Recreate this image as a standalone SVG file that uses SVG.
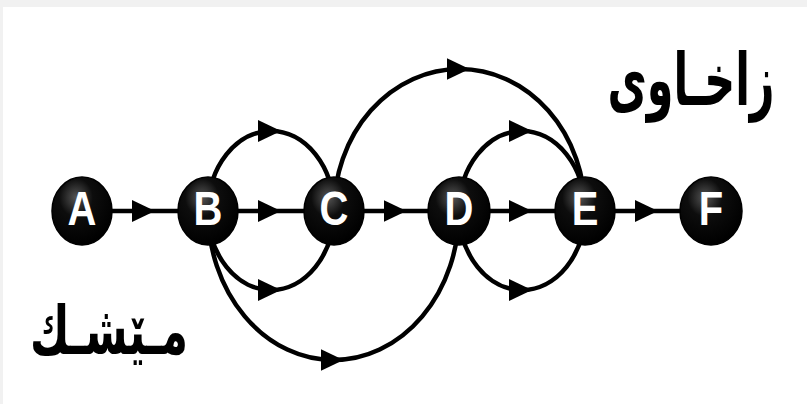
<svg xmlns="http://www.w3.org/2000/svg" width="807" height="404" viewBox="0 0 807 404">
<style>
.edge{fill:none;stroke:#000;stroke-width:4.5;marker-mid:url(#arr)}
.node ellipse{fill:url(#ball);stroke:#000;stroke-width:1.5}
.node text{font-family:"Liberation Sans",Arial,sans-serif;font-weight:bold;font-size:40px;fill:#fff;text-anchor:middle}
.word{font-family:"DejaVu Sans","Noto Sans",sans-serif;font-weight:bold;font-size:58px;fill:#000;text-anchor:middle}
</style>
<defs>
<radialGradient id="ball" cx="0.4" cy="0.3" r="0.7">
<stop offset="0" stop-color="#555"/>
<stop offset="0.4" stop-color="#0d0d0d"/>
<stop offset="1" stop-color="#000"/>
</radialGradient>
<marker id="arr" markerUnits="userSpaceOnUse" viewBox="0 0 23 22" markerWidth="23" markerHeight="22" refX="13" refY="11" orient="auto">
<path d="M0,0 L23,11 L0,22 z" fill="#000"/>
</marker>
</defs>
<rect x="0" y="0" width="807" height="404" fill="#f1f1f1"/>
<rect x="3" y="7" width="804" height="397" fill="#fff"/>
<g id="connectors">
<path class="edge" d="M82 211 L145 211 L208 211"/>
<path class="edge" d="M208 211 L271 211 L334 211"/>
<path class="edge" d="M334 211 L396.5 211 L459 211"/>
<path class="edge" d="M459 211 L522 211 L585 211"/>
<path class="edge" d="M585 211 L648 211 L711 211"/>
<path class="edge" d="M208 211 A63 80 0 0 1 271 131 A63 80 0 0 1 334 211"/>
<path class="edge" d="M208 211 A63 79 0 0 0 271 290 A63 79 0 0 0 334 211"/>
<path class="edge" d="M334 211 A125.5 142 0 0 1 459.5 69 A125.5 142 0 0 1 585 211"/>
<path class="edge" d="M459 211 A63 80 0 0 1 522 131 A63 80 0 0 1 585 211"/>
<path class="edge" d="M459 211 A63 79 0 0 0 522 290 A63 79 0 0 0 585 211"/>
<path class="edge" d="M208 211 A125.5 149 0 0 0 333.5 360 A125.5 149 0 0 0 459 211"/>
</g>
<g id="A" class="node"><ellipse cx="82" cy="211" rx="30" ry="34"/><text transform="translate(82 211) scale(1 1.2)" y="12">A</text></g>
<g id="B" class="node"><ellipse cx="208" cy="211" rx="30" ry="34"/><text transform="translate(208 211) scale(1 1.2)" y="12">B</text></g>
<g id="C" class="node"><ellipse cx="334" cy="211" rx="30" ry="34"/><text transform="translate(334 211) scale(1 1.2)" y="12">C</text></g>
<g id="D" class="node"><ellipse cx="459" cy="211" rx="31" ry="34"/><text transform="translate(459 211) scale(1 1.2)" y="12">D</text></g>
<g id="E" class="node"><ellipse cx="585" cy="211" rx="30" ry="34"/><text transform="translate(585 211) scale(1 1.2)" y="12">E</text></g>
<g id="F" class="node"><ellipse cx="711" cy="211" rx="31" ry="34"/><text transform="translate(711 211) scale(1 1.2)" y="12">F</text></g>
<g id="label-top"><text class="word" transform="translate(691 105) scale(0.74 1.25)" direction="rtl">زاخـاوى</text></g>
<g id="label-bottom"><text class="word" transform="translate(109 354) scale(0.745 1.15)" direction="rtl">مـێشـك</text></g>
</svg>
